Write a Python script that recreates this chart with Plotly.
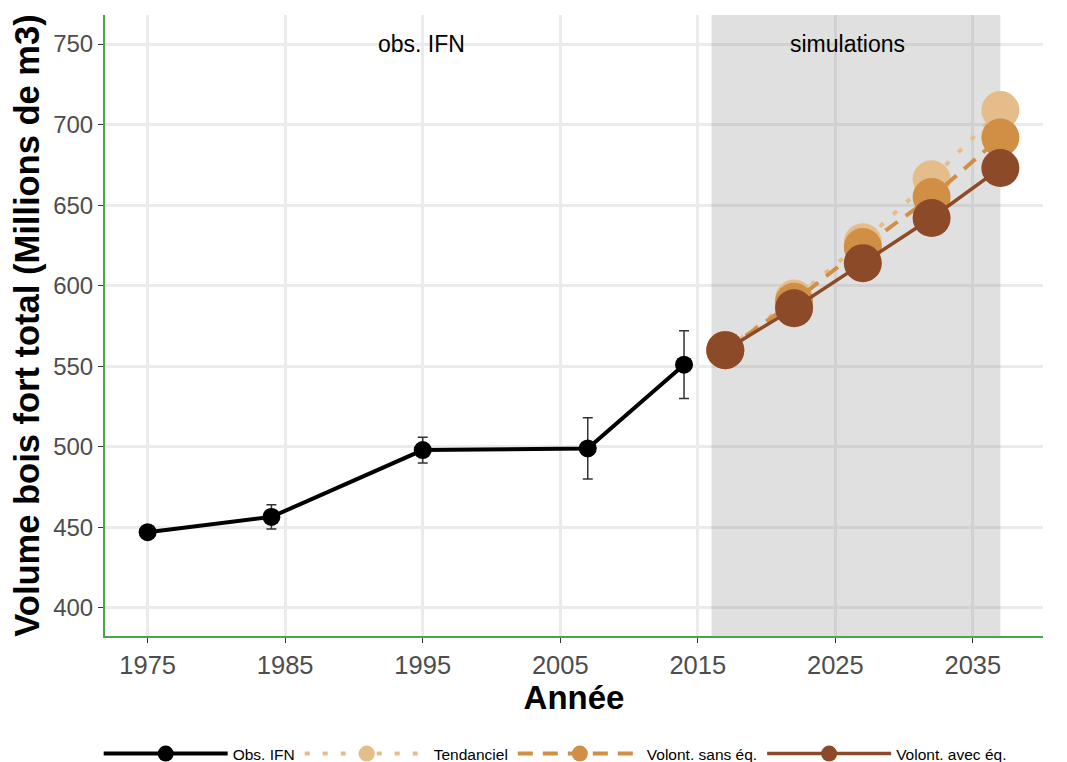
import plotly.graph_objects as go

# Observations (IFN)
obs_years = [1975, 1984, 1995, 2007, 2014]
obs_values = [447, 456.5, 498, 499, 551]
obs_err = [0, 7.5, 8, 19, 21]

# Simulations
sim_years = [2017, 2022, 2027, 2032, 2037]
tendanciel = [560, 592, 627, 666, 709]
volont_sans = [560, 590, 624, 655, 692]
volont_avec = [560, 586, 614, 642, 673]

x_ticks = [1975, 1985, 1995, 2005, 2015, 2025, 2035]
y_ticks = [400, 450, 500, 550, 600, 650, 700, 750]

x_range = [1971.9, 2040.1]
y_range = [382.6, 768]
shade_range = [2016, 2037]

c_tend = "#E4BD8B"
c_sans = "#D18E45"
c_avec = "#8C4A29"

fig = go.Figure()

# shaded simulation period (drawn as a trace so it sits above the grid)
fig.add_trace(go.Scatter(
    x=[shade_range[0], shade_range[1], shade_range[1], shade_range[0], shade_range[0]],
    y=[y_range[0], y_range[0], y_range[1], y_range[1], y_range[0]],
    mode="lines", fill="toself", fillcolor="rgba(128,128,128,0.245)",
    line=dict(width=0), hoverinfo="skip", showlegend=False))

fig.add_trace(go.Scatter(
    x=sim_years, y=tendanciel, name="Tendanciel", mode="lines+markers",
    line=dict(color=c_tend, width=4, dash="5px,13px"),
    marker=dict(size=38, color=c_tend), legendrank=2))
fig.add_trace(go.Scatter(
    x=sim_years, y=volont_sans, name="Volont. sans éq.", mode="lines+markers",
    line=dict(color=c_sans, width=4, dash="15px,10px"),
    marker=dict(size=38, color=c_sans), legendrank=3))
fig.add_trace(go.Scatter(
    x=sim_years, y=volont_avec, name="Volont. avec éq.", mode="lines+markers",
    line=dict(color=c_avec, width=3.5),
    marker=dict(size=38, color=c_avec), legendrank=4))
fig.add_trace(go.Scatter(
    x=obs_years, y=obs_values, name="Obs. IFN", mode="lines+markers",
    line=dict(color="black", width=4),
    marker=dict(size=18, color="black"), legendrank=1,
    error_y=dict(type="data", array=obs_err, visible=True, color="#333333", thickness=1.5, width=5)))

fig.add_annotation(x=1994.9, y=750, text="obs. IFN", showarrow=False,
                   font=dict(size=23, color="black"))
fig.add_annotation(x=2025.9, y=750, text="simulations", showarrow=False,
                   font=dict(size=23, color="black"))

axis_line = "#45AA45"
fig.update_xaxes(range=x_range, tickvals=x_ticks, showgrid=True, gridcolor="#EBEBEB", gridwidth=3,
                 zeroline=False, showline=True, linecolor=axis_line, linewidth=2,
                 ticks="outside", ticklen=5, tickcolor="#333333", automargin=False,
                 tickfont=dict(size=25.5, color="#4D4D4D"),
                 title=dict(text="<b>Année</b>", font=dict(size=33, color="black"), standoff=2))
fig.update_yaxes(range=y_range, tickvals=y_ticks, showgrid=True, gridcolor="#EBEBEB", gridwidth=3,
                 zeroline=False, showline=True, linecolor=axis_line, linewidth=2,
                 ticks="outside", ticklen=5, tickcolor="#333333", automargin=False,
                 tickfont=dict(size=24, color="#4D4D4D"),
                 title=dict(text="<b>Volume bois fort total (Millions de m3)</b>", font=dict(size=34.5, color="black"), standoff=4))

fig.update_layout(
    width=1067, height=762,
    paper_bgcolor="white", plot_bgcolor="white",
    font=dict(family="Liberation Sans, Arial, sans-serif"),
    margin=dict(l=97, r=32, t=7, b=134, autoexpand=False),
    legend=dict(orientation="h", x=0.085, xanchor="left", xref="container",
                y=0.021, yanchor="middle", yref="container",
                font=dict(size=15.5, color="black"), traceorder="normal",
                itemwidth=124),
    showlegend=True,
)

fig.write_html("out.html")
